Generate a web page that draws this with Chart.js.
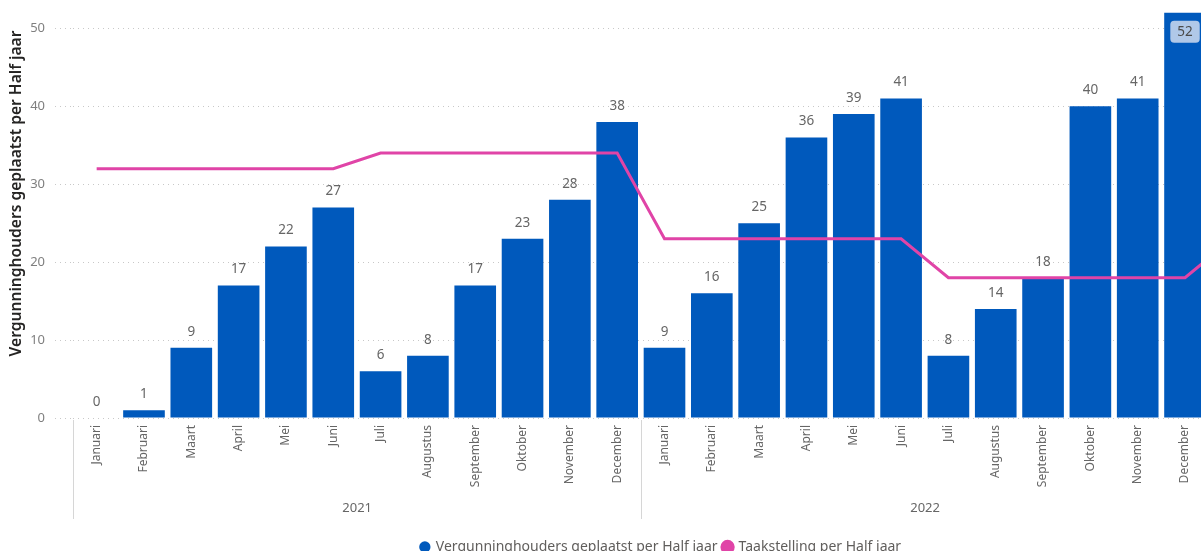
<!DOCTYPE html>
<html>
<head>
<meta charset="utf-8">
<script src="https://cdn.jsdelivr.net/npm/chart.js@4.4.0/dist/chart.umd.min.js"></script>
<style>
  html, body { margin: 0; padding: 0; background: #fff; overflow: hidden; }
  #wrap { position: relative; width: 1322px; height: 564px; }
</style>
</head>
<body>
<div id="wrap"><canvas id="c"></canvas></div>
<script>
// ---- data ----
const months = ['Januari','Februari','Maart','April','Mei','Juni','Juli','Augustus','September','Oktober','November','December',
                'Januari','Februari','Maart','April','Mei','Juni','Juli','Augustus','September','Oktober','November','December',
                'Januari'];
const years = ['2021','2021','2021','2021','2021','2021','2021','2021','2021','2021','2021','2021',
               '2022','2022','2022','2022','2022','2022','2022','2022','2022','2022','2022','2022',
               '2023'];
const geplaatst = [0, 1, 9, 17, 22, 27, 6, 8, 17, 23, 28, 38,
                   9, 16, 25, 36, 39, 41, 8, 14, 18, 40, 41, 52,
                   null];
const taakstelling = [32, 32, 32, 32, 32, 32, 34, 34, 34, 34, 34, 34,
                      23, 23, 23, 23, 23, 23, 18, 18, 18, 18, 18, 18,
                      23];
const yTicks = [0, 10, 20, 30, 40, 50];
const seriesNames = ['Vergunninghouders geplaatst per Half jaar', 'Taakstelling per Half jaar'];

const FONT = "'Noto Sans', 'Open Sans', sans-serif";
const BLUE = '#0059BC';
const PINK = '#E044A7';

// data labels plugin
const valueLabels = {
  id: 'valueLabels',
  afterDatasetsDraw(chart) {
    const ctx = chart.ctx;
    const meta = chart.getDatasetMeta(0);
    const area = chart.chartArea;
    ctx.save();
    ctx.font = "13.5px " + FONT;
    ctx.textAlign = 'center';
    ctx.textBaseline = 'middle';
    meta.data.forEach((bar, i) => {
      const v = geplaatst[i];
      if (v === null || v === undefined) return;
      const txt = String(v);
      let y = bar.y - 16;
      if (y - 8 < area.top) {
        y = bar.y + 19;
        const w = ctx.measureText(txt).width + 14;
        const h = 22;
        ctx.fillStyle = '#B0C8E8';
        ctx.beginPath();
        ctx.roundRect(bar.x - w / 2, y - h / 2, w, h, 4);
        ctx.fill();
        ctx.fillStyle = '#4a4a4a';
        ctx.fillText(txt, bar.x, y + 0.5);
      } else {
        ctx.fillStyle = '#666666';
        ctx.fillText(txt, bar.x, y);
      }
    });
    ctx.restore();
  }
};

// year group + axis title plugin
const yearGroups = {
  id: 'yearGroups',
  afterDraw(chart) {
    const ctx = chart.ctx;
    const xs = chart.scales.x;
    const area = chart.chartArea;
    const step = xs.getPixelForValue(1) - xs.getPixelForValue(0);
    const groups = [];
    years.forEach((yr, i) => {
      const g = groups[groups.length - 1];
      if (g && g.year === yr) g.last = i; else groups.push({year: yr, first: i, last: i});
    });
    ctx.save();
    ctx.strokeStyle = '#d6d6d6';
    ctx.lineWidth = 1;
    ctx.fillStyle = '#666666';
    ctx.font = "13px " + FONT;
    ctx.textAlign = 'center';
    ctx.textBaseline = 'middle';
    groups.forEach(g => {
      const left = Math.round(xs.getPixelForValue(g.first) - step / 2) + 0.5;
      const right = xs.getPixelForValue(g.last) + step / 2;
      ctx.beginPath();
      ctx.moveTo(left, area.bottom + 2);
      ctx.lineTo(left, area.bottom + 101);
      ctx.stroke();
      ctx.fillText(g.year, (left + right) / 2, area.bottom + 90);
    });
    // y-axis title
    ctx.translate(17, (area.top + area.bottom) / 2 - 18);
    ctx.rotate(-Math.PI / 2);
    ctx.fillStyle = '#252423';
    ctx.font = "600 15.6px " + FONT;
    ctx.fillText(seriesNames[0], 0, 0);
    ctx.restore();
  }
};

new Chart(document.getElementById('c'), {
  data: {
    labels: months,
    datasets: [
      {
        type: 'bar',
        label: seriesNames[0],
        data: geplaatst,
        backgroundColor: BLUE,
        borderWidth: 0,
        categoryPercentage: 1.0,
        barPercentage: 0.88,
        order: 1
      },
      {
        type: 'line',
        label: seriesNames[1],
        data: taakstelling,
        borderColor: PINK,
        backgroundColor: PINK,
        borderWidth: 3,
        pointRadius: 0,
        pointHoverRadius: 0,
        tension: 0,
        order: 0
      }
    ]
  },
  options: {
    responsive: true,
    maintainAspectRatio: false,
    animation: false,
    layout: { autoPadding: false, padding: { top: 5, left: 0, right: 0, bottom: 0 } },
    plugins: {
      tooltip: { enabled: false },
      legend: {
        position: 'bottom',
        labels: {
          usePointStyle: true,
          pointStyle: 'circle',
          boxWidth: 8,
          boxHeight: 8,
          padding: 6,
          color: '#605E5C',
          font: { family: FONT, size: 14 },
          sort: (a, b) => a.datasetIndex - b.datasetIndex
        }
      }
    },
    scales: {
      x: {
        offset: true,
        grid: { display: false, drawTicks: false },
        border: { display: false },
        ticks: {
          autoSkip: false,
          minRotation: 90,
          maxRotation: 90,
          padding: 7,
          color: '#666666',
          font: { family: FONT, size: 12 }
        },
        afterFit(scale) { scale.height = 116; }
      },
      y: {
        min: 0,
        max: 53,
        afterBuildTicks(scale) { scale.ticks = yTicks.map(v => ({ value: v })); },
        afterFit(scale) { scale.width = 73; scale.paddingTop = 0; scale.paddingBottom = 0; },
        border: { display: false, dash: [1, 4] },
        grid: {
          color: '#c8c8c8',
          lineWidth: 1,
          drawTicks: true,
          tickLength: 18,
          tickBorderDash: [1, 4],
          tickColor: '#c8c8c8'
        },
        ticks: {
          padding: 10,
          color: '#7f7f7f',
          font: { family: FONT, size: 13 }
        }
      },
      yRight: {
        position: 'right',
        display: true,
        grid: { display: false, drawTicks: false },
        border: { display: false },
        ticks: { display: false },
        afterFit(scale) { scale.width = 66; scale.paddingTop = 0; scale.paddingBottom = 0; }
      }
    }
  },
  plugins: [valueLabels, yearGroups]
});
</script>
</body>
</html>
